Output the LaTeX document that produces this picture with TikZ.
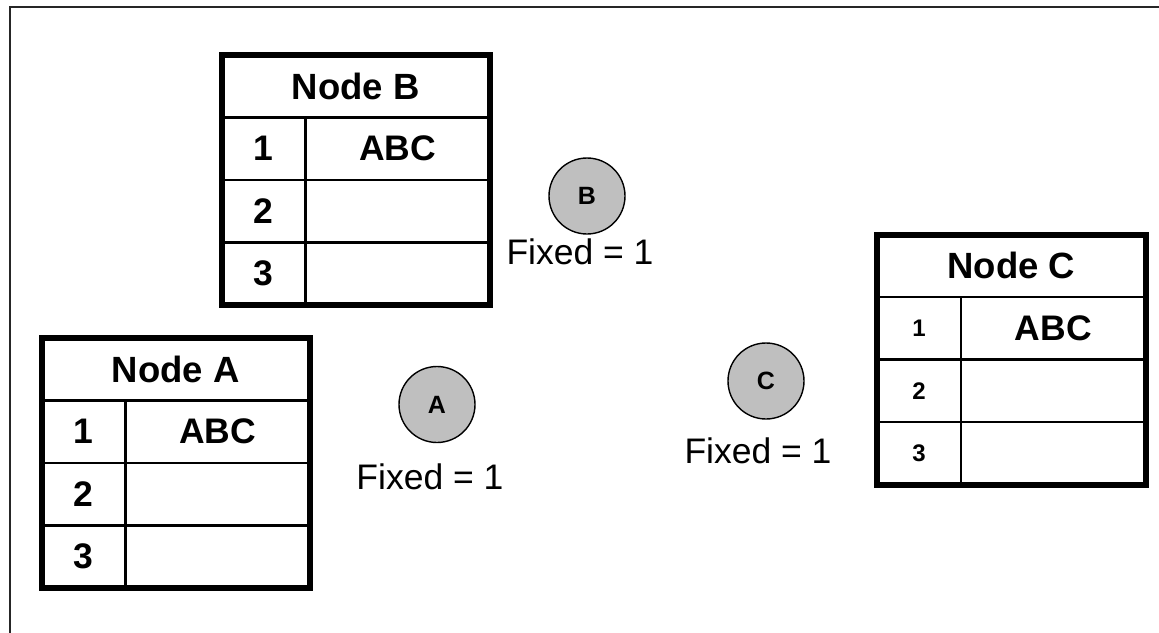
\documentclass[tikz,border=0pt]{standalone}
\usepackage{fontspec}
\setmainfont{Liberation Sans}
\usetikzlibrary{positioning}

\begin{document}
\begin{tikzpicture}[x=1pt, y=-1pt]
\tikzstyle{frameline} = [draw=black!85, line width=2.4pt]
\tikzstyle{header} = [draw, rectangle, line width=2.2pt, minimum width=268.5pt, minimum height=62.5pt, inner sep=0pt, outer sep=0pt, font=\fontsize{36.5}{40}\selectfont\bfseries]
\tikzstyle{numcell} = [draw, rectangle, line width=2.2pt, minimum width=84pt, minimum height=62.5pt, inner sep=0pt, outer sep=0pt, font=\fontsize{35.5}{40}\selectfont\bfseries]
\tikzstyle{smallnum} = [numcell, font=\fontsize{24}{28}\selectfont\bfseries]
\tikzstyle{valcell} = [draw, rectangle, line width=2.2pt, minimum width=184.5pt, minimum height=62.5pt, inner sep=0pt, outer sep=0pt, font=\fontsize{35.5}{40}\selectfont\bfseries]
\tikzstyle{tblborder} = [draw, line width=6pt]
\tikzstyle{fixed} = [draw, circle, fill=black!25, line width=1.4pt, minimum size=76pt, inner sep=0pt, font=\fontsize{25}{28}\selectfont\bfseries]
\tikzstyle{fixlabel} = [inner sep=0pt, font=\fontsize{35.5}{40}\selectfont]

% Page and frame
\fill[white] (0,0) rectangle (1159,632);
\useasboundingbox (0,0) rectangle (1159,632);
\clip (0,0) rectangle (1159,632);
\draw [frameline] (10,7) rectangle (1180,660);

% Node A table
\node [header, anchor=north west] (hdrA) at (41.5,338) {Node A};
\node [numcell, below right=0pt of hdrA.south west] (numA1) {1};
\node [valcell, right=0pt of numA1] (valA1) {ABC};
\node [numcell, below=0pt of numA1] (numA2) {2};
\node [valcell, right=0pt of numA2] (valA2) {};
\node [numcell, below=0pt of numA2] (numA3) {3};
\node [valcell, right=0pt of numA3] (valA3) {};
\draw [tblborder] (hdrA.north west) rectangle (valA3.south east);

% Node B table
\node [header, anchor=north west] (hdrB) at (221.5,55) {Node B};
\node [numcell, below right=0pt of hdrB.south west] (numB1) {1};
\node [valcell, right=0pt of numB1] (valB1) {ABC};
\node [numcell, below=0pt of numB1] (numB2) {2};
\node [valcell, right=0pt of numB2] (valB2) {};
\node [numcell, below=0pt of numB2] (numB3) {3};
\node [valcell, right=0pt of numB3] (valB3) {};
\draw [tblborder] (hdrB.north west) rectangle (valB3.south east);

% Node C table
\node [header, anchor=north west] (hdrC) at (877,234.5) {Node C};
\node [smallnum, below right=0pt of hdrC.south west] (numC1) {1};
\node [valcell, right=0pt of numC1] (valC1) {ABC};
\node [smallnum, below=0pt of numC1] (numC2) {2};
\node [valcell, right=0pt of numC2] (valC2) {};
\node [smallnum, below=0pt of numC2] (numC3) {3};
\node [valcell, right=0pt of numC3] (valC3) {};
\draw [tblborder] (hdrC.north west) rectangle (valC3.south east);

% Fixed nodes
\node [fixed] (cA) at (437,404.5) {A};
\node [fixed] (cB) at (587,196) {B};
\node [fixed] (cC) at (766,381) {C};
\node [fixlabel, below=20pt of cA, xshift=-7pt] (lblA) {Fixed = 1};
\node [fixlabel, below=4pt of cB, xshift=-7pt] (lblB) {Fixed = 1};
\node [fixlabel, below=18pt of cC, xshift=-8pt] (lblC) {Fixed = 1};

\end{tikzpicture}
\end{document}
